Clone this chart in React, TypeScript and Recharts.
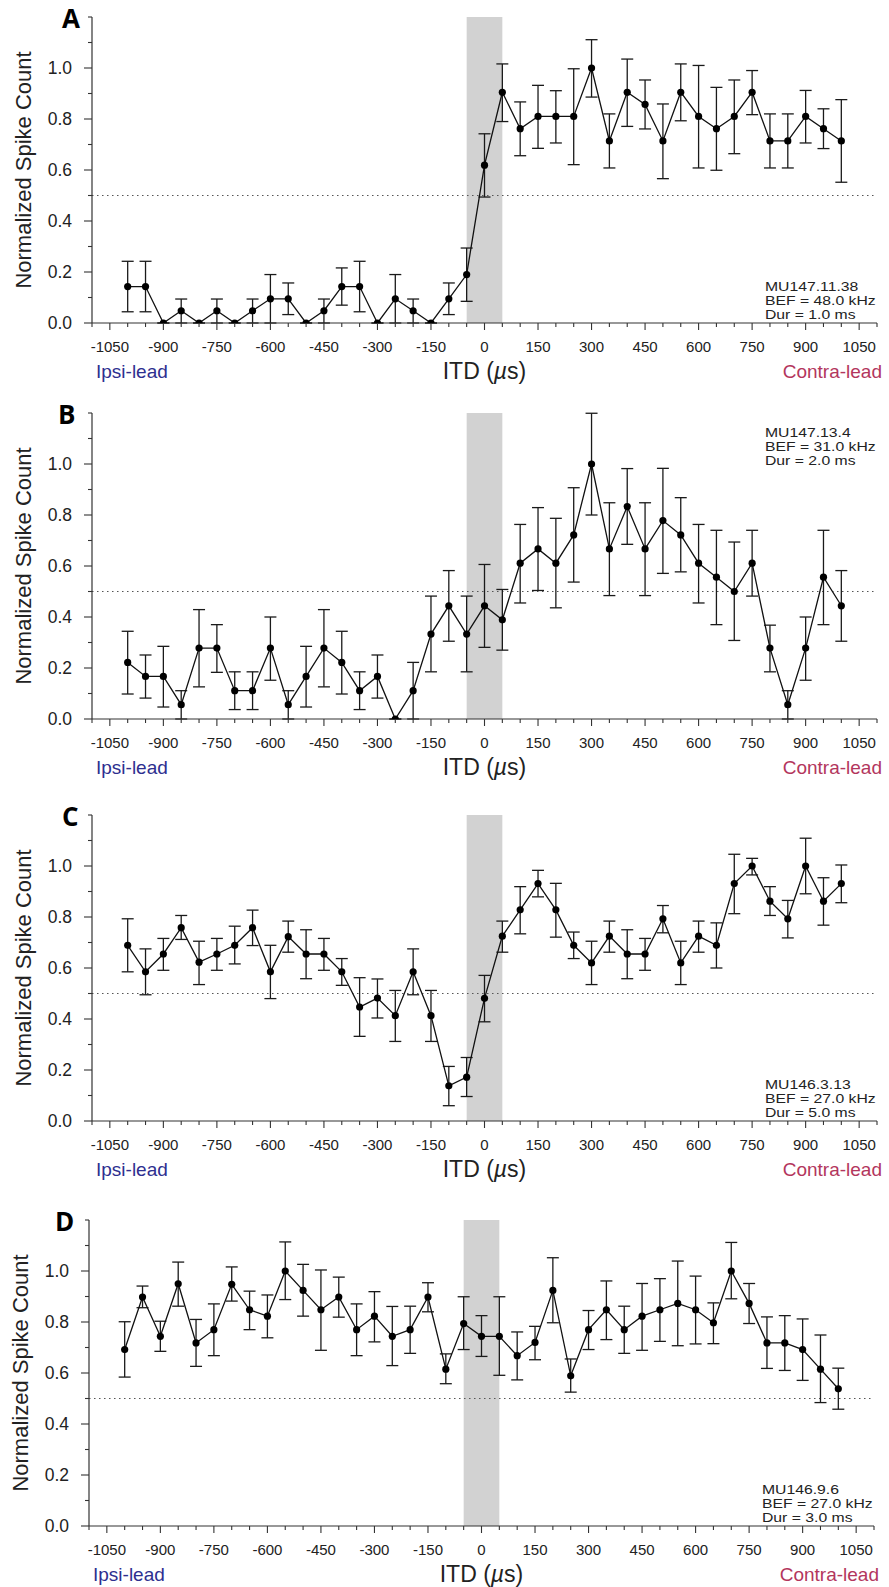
import React from "react";
import {
  ComposedChart,
  Line,
  XAxis,
  YAxis,
  ErrorBar,
  ReferenceArea,
  ReferenceLine,
} from "recharts";

// ITD values (µs) of the measured points
const itd = [
  -1000, -950, -900, -850, -800, -750, -700, -650, -600, -550, -500, -450, -400, -350, -300, -250, -200, -150, -100,
  -50, 0, 50, 100, 150, 200, 250, 300, 350, 400, 450, 500, 550, 600, 650, 700, 750, 800, 850, 900, 950, 1000,
];

// axis ticks
const xTicks = [
  -1100, -1050, -1000, -950, -900, -850, -800, -750, -700, -650, -600, -550, -500, -450, -400, -350, -300, -250, -200,
  -150, -100, -50, 0, 50, 100, 150, 200, 250, 300, 350, 400, 450, 500, 550, 600, 650, 700, 750, 800, 850, 900, 950,
  1000, 1050, 1100,
];
const yTicks = [0, 0.1, 0.2, 0.3, 0.4, 0.5, 0.6, 0.7, 0.8, 0.9, 1.0, 1.1, 1.2];

// Panel A
const valuesA = [
  0.143, 0.143, 0, 0.048, 0, 0.048, 0, 0.048, 0.095, 0.095, 0, 0.048, 0.143, 0.143, 0, 0.095, 0.048, 0, 0.095,
  0.19, 0.619, 0.905, 0.762, 0.81, 0.81, 0.81, 1.0, 0.714, 0.905, 0.857, 0.714, 0.905, 0.81, 0.762, 0.81, 0.905,
  0.714, 0.714, 0.81, 0.762, 0.714,
];
const upperA = [
  0.242, 0.242, 0, 0.094, 0, 0.094, 0, 0.094, 0.19, 0.157, 0, 0.094, 0.216, 0.242, 0, 0.19, 0.094, 0, 0.157,
  0.294, 0.742, 1.016, 0.867, 0.932, 0.911, 0.997, 1.111, 0.82, 1.035, 0.953, 0.859, 1.016, 1.01, 0.924, 0.953, 0.99,
  0.82, 0.82, 0.912, 0.84, 0.876,
];
const lowerA = [
  0.044, 0.044, 0, 0, 0, 0, 0, 0, 0, 0.033, 0, 0, 0.07, 0.044, 0, 0, 0, 0, 0.033,
  0.085, 0.494, 0.79, 0.656, 0.685, 0.706, 0.621, 0.886, 0.608, 0.771, 0.761, 0.566, 0.793, 0.608, 0.599, 0.664,
  0.817, 0.608, 0.608, 0.706, 0.684, 0.552,
];

// Panel B
const valuesB = [
  0.222, 0.167, 0.167, 0.056, 0.278, 0.278, 0.111, 0.111, 0.278, 0.056, 0.167, 0.278, 0.222, 0.111, 0.167, 0, 0.111,
  0.333, 0.444, 0.333, 0.444, 0.389, 0.611, 0.667, 0.611, 0.722, 1.0, 0.667, 0.833, 0.667, 0.778, 0.722, 0.611, 0.556,
  0.5, 0.611, 0.278, 0.056, 0.278, 0.556, 0.444,
];
const upperB = [
  0.344, 0.251, 0.285, 0.111, 0.429, 0.37, 0.185, 0.185, 0.4, 0.111, 0.285, 0.429, 0.344, 0.185, 0.251, 0, 0.222,
  0.482, 0.582, 0.482, 0.606, 0.508, 0.763, 0.829, 0.787, 0.907, 1.199, 0.848, 0.982, 0.848, 0.983, 0.868, 0.763,
  0.74, 0.694, 0.74, 0.368, 0.111, 0.4, 0.74, 0.582,
];
const lowerB = [
  0.098, 0.082, 0.047, 0, 0.126, 0.183, 0.037, 0.037, 0.152, 0, 0.047, 0.126, 0.098, 0.037, 0.082, 0, 0, 0.185,
  0.305, 0.185, 0.281, 0.27, 0.455, 0.504, 0.436, 0.537, 0.8, 0.484, 0.685, 0.484, 0.571, 0.577, 0.455, 0.37, 0.308,
  0.482, 0.185, 0, 0.152, 0.37, 0.305,
];

// Panel C
const valuesC = [
  0.689, 0.585, 0.655, 0.758, 0.623, 0.655, 0.689, 0.758, 0.585, 0.723, 0.655, 0.655, 0.585, 0.447, 0.482, 0.413,
  0.585, 0.413, 0.138, 0.172, 0.481, 0.725, 0.828, 0.931, 0.828, 0.689, 0.62, 0.725, 0.655, 0.655, 0.793, 0.62, 0.725,
  0.689, 0.931, 1.0, 0.862, 0.793, 1.0, 0.862, 0.931,
];
const upperC = [
  0.793, 0.675, 0.716, 0.806, 0.705, 0.716, 0.764, 0.827, 0.689, 0.784, 0.75, 0.716, 0.637, 0.562, 0.557, 0.512,
  0.675, 0.512, 0.214, 0.249, 0.571, 0.784, 0.919, 0.983, 0.932, 0.741, 0.705, 0.784, 0.75, 0.716, 0.845, 0.705,
  0.784, 0.777, 1.046, 1.03, 0.919, 0.865, 1.109, 0.954, 1.004,
];
const lowerC = [
  0.585, 0.495, 0.591, 0.712, 0.535, 0.591, 0.616, 0.688, 0.48, 0.662, 0.558, 0.591, 0.532, 0.332, 0.404, 0.312,
  0.495, 0.312, 0.06, 0.096, 0.389, 0.662, 0.734, 0.879, 0.721, 0.637, 0.535, 0.662, 0.558, 0.591, 0.738, 0.535,
  0.662, 0.6, 0.813, 0.965, 0.806, 0.718, 0.891, 0.768, 0.856,
];

// Panel D
const valuesD = [
  0.692, 0.898, 0.744, 0.95, 0.718, 0.77, 0.948, 0.848, 0.823, 1.0, 0.924, 0.848, 0.898, 0.77, 0.823, 0.744, 0.77,
  0.898, 0.615, 0.794, 0.744, 0.744, 0.668, 0.72, 0.924, 0.589, 0.77, 0.848, 0.77, 0.823, 0.848, 0.873, 0.848, 0.797,
  1.0, 0.873, 0.718, 0.718, 0.692, 0.615, 0.538,
];
const upperD = [
  0.801, 0.941, 0.803, 1.035, 0.81, 0.871, 1.016, 0.921, 0.906, 1.114, 1.026, 1.004, 0.976, 0.871, 0.919, 0.861,
  0.862, 0.954, 0.675, 0.899, 0.825, 0.899, 0.761, 0.783, 1.052, 0.655, 0.845, 0.961, 0.862, 0.951, 0.97, 1.039,
  0.98, 0.875, 1.112, 0.951, 0.82, 0.825, 0.812, 0.749, 0.619,
];
const lowerD = [
  0.584, 0.856, 0.685, 0.862, 0.626, 0.668, 0.882, 0.77, 0.738, 0.888, 0.823, 0.689, 0.819, 0.668, 0.722, 0.629,
  0.677, 0.84, 0.558, 0.692, 0.665, 0.591, 0.573, 0.652, 0.797, 0.525, 0.692, 0.731, 0.677, 0.689, 0.724, 0.707,
  0.714, 0.715, 0.891, 0.794, 0.618, 0.61, 0.571, 0.484, 0.458,
];

const notesA = ["MU147.11.38", "BEF = 48.0 kHz", "Dur = 1.0 ms"];
const notesB = ["MU147.13.4", "BEF = 31.0 kHz", "Dur = 2.0 ms"];
const notesC = ["MU146.3.13", "BEF = 27.0 kHz", "Dur = 5.0 ms"];
const notesD = ["MU146.9.6", "BEF = 27.0 kHz", "Dur = 3.0 ms"];

const FONT = "'Liberation Sans', Arial, Helvetica, sans-serif";
const W = 889;
const H = 400;
const TOP = 17;
const PLOT_H = 306;

type Panel = {
  letter: string;
  letterX: number;
  values: number[];
  upper: number[];
  lower: number[];
  notes: string[];
  noteTop: boolean;
  plotTop: number;
  left: number;
  right: number;
};

const panels: Panel[] = [
  { letter: "A", letterX: 62, values: valuesA, upper: upperA, lower: lowerA, notes: notesA, noteTop: false, plotTop: 17, left: 92, right: 877 },
  { letter: "B", letterX: 58, values: valuesB, upper: upperB, lower: lowerB, notes: notesB, noteTop: true, plotTop: 413, left: 92, right: 877 },
  { letter: "C", letterX: 62, values: valuesC, upper: upperC, lower: lowerC, notes: notesC, noteTop: false, plotTop: 815, left: 92, right: 877 },
  { letter: "D", letterX: 55, values: valuesD, upper: upperD, lower: lowerD, notes: notesD, noteTop: false, plotTop: 1220, left: 89, right: 874 },
];

const XTick = (props: any) => {
  const { x, y, payload } = props;
  const v = payload.value;
  const major = Math.abs(v) % 150 === 0;
  return (
    <g>
      <line x1={x} x2={x} y1={y} y2={y + (major ? 7 : 4)} stroke="#333" strokeWidth={1.1} />
      {major && (
        <text x={x} y={y + 29} textAnchor="middle" fontSize={15} fontFamily={FONT} fill="#222">
          {String(v)}
        </text>
      )}
    </g>
  );
};

const YTick = (props: any) => {
  const { x, y, payload } = props;
  const v = payload.value;
  const k = Math.round(v * 10);
  const major = k % 2 === 0 && k <= 10;
  return (
    <g>
      <line x1={x} x2={x - (major ? 8 : 4)} y1={y} y2={y} stroke="#333" strokeWidth={1.1} />
      {major && (
        <text x={x - 20} y={y} textAnchor="end" dominantBaseline="central" fontSize={17.5} fontFamily={FONT} fill="#222">
          {v.toFixed(1)}
        </text>
      )}
    </g>
  );
};

function PanelChart({ p }: { p: Panel }) {
  const rows = itd.map((x, i) => ({
    x,
    v: p.values[i],
    err: [p.values[i] - p.lower[i], p.upper[i] - p.values[i]],
  }));
  const axisY = TOP + PLOT_H;
  const cx = (p.left + p.right) / 2;
  const noteX = p.right - 112;
  return (
    <div style={{ position: "absolute", left: 0, top: p.plotTop - TOP, width: W, height: H }}>
      <ComposedChart
        width={W}
        height={H}
        data={rows}
        margin={{ top: TOP, right: W - p.right, left: 0, bottom: 0 }}
      >
        <XAxis
          dataKey="x"
          type="number"
          domain={[-1100, 1100]}
          ticks={xTicks}
          interval={0}
          tickSize={0}
          tickMargin={0}
          tickLine={false}
          tick={<XTick />}
          axisLine={{ stroke: "#333", strokeWidth: 1.2 }}
          height={H - TOP - PLOT_H}
          allowDataOverflow
        />
        <YAxis
          type="number"
          domain={[0, 1.2]}
          ticks={yTicks}
          interval={0}
          tickSize={0}
          tickMargin={0}
          tickLine={false}
          tick={<YTick />}
          axisLine={{ stroke: "#333", strokeWidth: 1.2 }}
          width={p.left}
          allowDataOverflow
        />
        <ReferenceArea x1={-50} x2={50} y1={0} y2={1.2} fill="#d2d2d2" fillOpacity={1} stroke="none" ifOverflow="hidden" />
        <ReferenceLine y={0.5} stroke="#555" strokeWidth={1} strokeDasharray="1.5 3.5" />
        <Line
          type="linear"
          dataKey="v"
          stroke="#111"
          strokeWidth={1.3}
          dot={{ r: 3.6, fill: "#000", stroke: "#000", strokeWidth: 0 }}
          activeDot={false}
          isAnimationActive={false}
        >
          <ErrorBar dataKey="err" direction="y" width={6} stroke="#1a1a1a" strokeWidth={1.3} isAnimationActive={false} />
        </Line>
      </ComposedChart>
      <svg
        width={W}
        height={H}
        style={{ position: "absolute", left: 0, top: 0, pointerEvents: "none" }}
      >
        <text x={p.letterX} y={TOP + 11} fontSize={26} fontWeight={700} fontFamily="'Open Sans', Arial, sans-serif" fill="#000">
          {p.letter}
        </text>
        <text
          x={p.left - 61}
          y={TOP + PLOT_H / 2}
          transform={`rotate(-90 ${p.left - 61} ${TOP + PLOT_H / 2})`}
          textAnchor="middle"
          fontSize={22}
          fontFamily={FONT}
          fill="#222"
        >
          Normalized Spike Count
        </text>
        <text x={p.left + 4} y={axisY + 55} fontSize={19} fontFamily={FONT} fill="#2e2f8f">
          Ipsi-lead
        </text>
        <text x={cx} y={axisY + 56} textAnchor="middle" fontSize={23} fontFamily={FONT} fill="#222">
          ITD (<tspan fontStyle="italic">µ</tspan>s)
        </text>
        <text x={p.right + 5} y={axisY + 55} textAnchor="end" fontSize={19} fontFamily={FONT} fill="#b3365d">
          Contra-lead
        </text>
        {p.notes.map((t, i) => {
          const ny = p.noteTop ? TOP + 24 + i * 14.2 : axisY - 32 + i * 14.2;
          return (
            <g key={t} transform={`translate(${noteX} ${ny}) scale(1.24 1)`}>
              <text x={0} y={0} fontSize={12.7} fontFamily={FONT} fill="#222">
                {t}
              </text>
            </g>
          );
        })}
      </svg>
    </div>
  );
}

export default function App() {
  return (
    <div style={{ position: "absolute", left: 0, top: 0, width: W, height: 1587, background: "#fff" }}>
      {panels.map((p) => (
        <PanelChart key={p.letter} p={p} />
      ))}
    </div>
  );
}
